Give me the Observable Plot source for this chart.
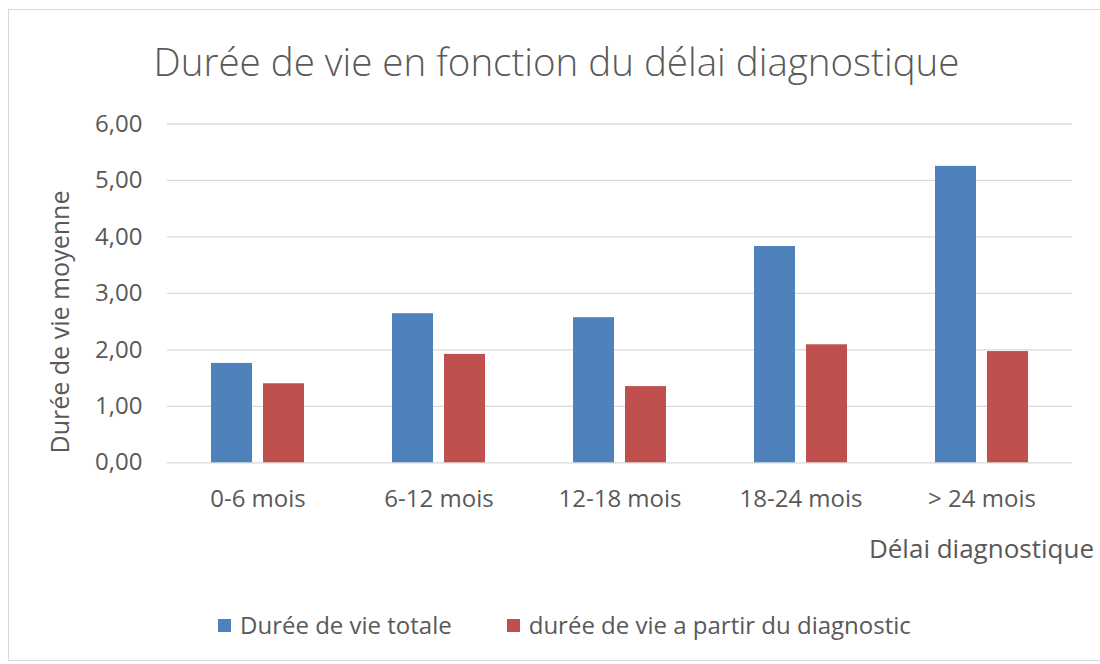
<!DOCTYPE html>
<html>
<head>
<meta charset="utf-8">
<script src="https://cdn.jsdelivr.net/npm/d3@7"></script>
<script src="https://cdn.jsdelivr.net/npm/@observablehq/plot@0.6"></script>
<style>
  html, body { margin: 0; padding: 0; background: #fff; }
  #wrap { position: relative; width: 1100px; height: 664px; overflow: hidden; font-family: "Open Sans", sans-serif; color: #595959; }
  #frame { position: absolute; left: 8px; top: 9px; width: 1100px; height: 652px; border: 1px solid #d9d9d9; box-sizing: border-box; }
  #title { position: absolute; left: 0; width: 1113px; top: 42px; text-align: center; font-size: 38.5px; font-weight: 300; line-height: 1; white-space: nowrap; }
  #ylabel { position: absolute; left: 59px; top: 322px; transform: translate(-50%, -50%) rotate(-90deg); font-size: 25px; line-height: 1; white-space: nowrap; }
  #xlabel { position: absolute; right: 6px; top: 535px; font-size: 26px; line-height: 1; white-space: nowrap; }
  #legend { position: absolute; left: 218px; top: 613px; display: flex; gap: 55px; font-size: 24px; line-height: 1; white-space: nowrap; }
  .item { display: flex; align-items: center; }
  .sw { width: 13px; height: 13px; margin-right: 9px; }
  #chart { position: absolute; left: 0; top: 0; }
</style>
</head>
<body>
<div id="wrap">
  <div id="frame"></div>
  <div id="chart"></div>
  <div id="title"></div>
  <div id="ylabel"></div>
  <div id="xlabel"></div>
  <div id="legend"></div>
</div>
<script>
const categories = ["0-6 mois", "6-12 mois", "12-18 mois", "18-24 mois", "> 24 mois"];
const series = ["Durée de vie totale", "durée de vie a partir du diagnostic"];
const dureeTotale = [1.76, 2.64, 2.57, 3.83, 5.25];
const dureeDiagnostic = [1.40, 1.92, 1.35, 2.09, 1.97];
const colors = ["#4f81bd", "#c0504d"];
const yTicks = [0, 1, 2, 3, 4, 5, 6];
const titleText = "Durée de vie en fonction du délai diagnostique";
const yLabelText = "Durée de vie moyenne";
const xLabelText = "Délai diagnostique";

const data = [];
categories.forEach((c, i) => {
  data.push({cat: c, series: series[0], value: dureeTotale[i]});
  data.push({cat: c, series: series[1], value: dureeDiagnostic[i]});
});

const fmt = d => d.toFixed(2).replace(".", ",");

const chart = Plot.plot({
  width: 1100,
  height: 664,
  marginTop: 123.5,
  marginBottom: 201.7,
  marginLeft: 167,
  marginRight: 28,
  style: {fontFamily: "Open Sans, sans-serif", fontSize: "24px", color: "#595959", background: "transparent"},
  fx: {domain: categories, padding: 0, label: null, axis: "bottom", tickSize: 0, tickPadding: 27},
  x: {domain: series, paddingInner: 0.2115, paddingOuter: 0.846, axis: null},
  y: {domain: [0, 6], ticks: yTicks, tickFormat: fmt, tickSize: 0, tickPadding: 25, label: null},
  color: {domain: series, range: colors},
  marks: [
    Plot.ruleY(yTicks, {stroke: "#d9d9d9", strokeWidth: 1.3}),
    Plot.barY(data, {fx: "cat", x: "series", y: "value", fill: "series"})
  ]
});
document.getElementById("chart").appendChild(chart);

document.getElementById("title").textContent = titleText;
document.getElementById("ylabel").textContent = yLabelText;
document.getElementById("xlabel").textContent = xLabelText;
const legend = document.getElementById("legend");
series.forEach((s, i) => {
  const item = document.createElement("div");
  item.className = "item";
  const sw = document.createElement("div");
  sw.className = "sw";
  sw.style.background = colors[i];
  const t = document.createElement("span");
  t.textContent = s;
  item.appendChild(sw);
  item.appendChild(t);
  legend.appendChild(item);
});
</script>
</body>
</html>
